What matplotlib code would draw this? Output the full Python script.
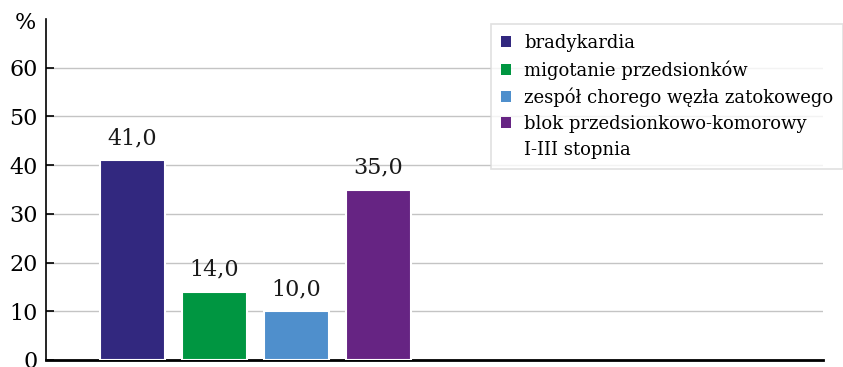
import numpy as np
import matplotlib.pyplot as plt
from matplotlib.patches import Patch

categories = ["bradykardia", "migotanie przedsionków",
              "zespół chorego węzła zatokowego",
              "blok przedsionkowo-komorowy\nI-III stopnia"]
values = [41.0, 14.0, 10.0, 35.0]
colors = ["#32287f", "#009641", "#4f8fcc", "#662483"]
yticks = [0, 10, 20, 30, 40, 50, 60]

plt.rcParams['font.family'] = ['DejaVu Serif']

W, H = 843, 367
fig = plt.figure(figsize=(W / 100, H / 100), dpi=100)
ax = fig.add_axes([46 / W, (H - 360) / H, (823 - 46) / W, (360 - 19) / H])

x = np.arange(len(values))
bars = ax.bar(x, values, width=0.79, color=colors, edgecolor='white',
              linewidth=1.5, zorder=3)
for xi, v in zip(x, values):
    ax.text(xi, v + 2.3, f"{v:.1f}".replace('.', ','), ha='center',
            va='bottom', fontsize=16, color='#1a1a1a')

ax.set_xlim(-1.05, 8.42)
ax.set_ylim(0, 70)
ax.set_yticks(yticks)
ax.set_yticklabels([str(t) for t in yticks], fontsize=16)
ax.set_xticks([])
ax.yaxis.grid(True, color='#c4c4c4', linewidth=1.0, zorder=0)
ax.tick_params(axis='y', direction='in', length=6, width=1.2, pad=6,
               colors='black')
for s in ['top', 'right']:
    ax.spines[s].set_visible(False)
ax.spines['left'].set_linewidth(1.2)
ax.spines['bottom'].set_linewidth(2)

fig.text(15 / W, 1 - 29 / H, "%", fontsize=16, va='baseline', ha='left')

# legend: last label split in two rows, second row without a marker
handles, labels = [], []
for c, lab in zip(colors, categories):
    parts = lab.split('\n')
    handles.append(Patch(facecolor=c, edgecolor='none'))
    labels.append(parts[0])
    for extra in parts[1:]:
        handles.append(Patch(facecolor='none', edgecolor='none'))
        labels.append(extra)
leg = fig.legend(handles, labels, loc='upper left',
                 bbox_to_anchor=(491 / W, 1 - 24 / H), fontsize=13,
                 frameon=True, fancybox=False, edgecolor='#d9d9d9',
                 handlelength=0.55, handleheight=0.55, handletextpad=0.75,
                 labelspacing=0.45, borderpad=0.55, borderaxespad=0)
leg.get_frame().set_linewidth(1.2)

fig.savefig('out.png', dpi=100)
